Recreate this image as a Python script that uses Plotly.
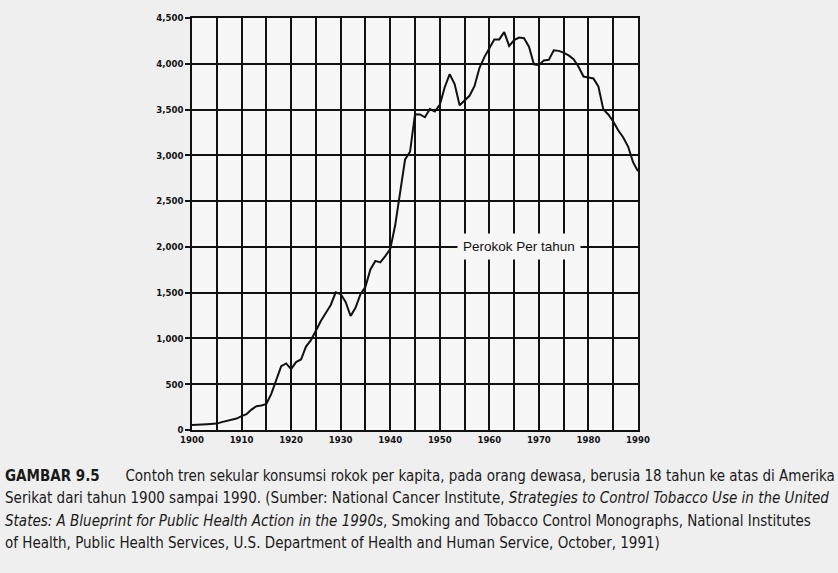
import plotly.graph_objects as go

years = list(range(1900, 1991))
cigarettes = [54, 53, 60, 64, 66, 70, 86, 99, 105, 125,
              151, 173, 223, 260, 267, 285, 395, 551, 697, 727,
              665, 742, 770, 911, 982, 1085, 1191, 1279, 1366, 1504,
              1485, 1399, 1245, 1334, 1483, 1564, 1754, 1847, 1830, 1900,
              1976, 2236, 2585, 2956, 3039, 3449, 3446, 3416, 3505, 3480,
              3552, 3744, 3886, 3778, 3546, 3597, 3650, 3755, 3953, 4073,
              4171, 4266, 4266, 4345, 4195, 4259, 4287, 4280, 4186, 3993,
              3985, 4037, 4043, 4148, 4141, 4122, 4092, 4051, 3967, 3861,
              3851, 3840, 3753, 3502, 3446, 3370, 3274, 3197, 3096, 2926,
              2826]
series_label = "Perokok Per tahun"
x_ticks = list(range(1900, 1991, 10))
y_ticks = list(range(0, 4501, 500))

caption_lines = [
    "<b>GAMBAR 9.5</b>&nbsp;&nbsp;&nbsp;&nbsp;&nbsp;&nbsp;Contoh tren sekular konsumsi rokok per kapita, pada orang dewasa, berusia 18 tahun ke atas di Amerika",
    "Serikat dari tahun 1900 sampai 1990. (Sumber: National Cancer Institute, <i>Strategies to Control Tobacco Use in the United</i>",
    "<i>States: A Blueprint for Public Health Action in the 1990s</i>, Smoking and Tobacco Control Monographs, National Institutes",
    "of Health, Public Health Services, U.S. Department of Health and Human Service, October, 1991)",
]

W, H = 838, 573
L, R, T, B = 192, 638, 18, 430

fig = go.Figure()
fig.add_trace(go.Scatter(x=years, y=cigarettes, mode="lines",
                         line=dict(color="#111111", width=2),
                         name=series_label, showlegend=False))

tickfont = dict(family="DejaVu Sans Condensed, Liberation Sans Narrow, sans-serif",
                size=9.5, color="#111111", weight="bold")

fig.update_xaxes(range=[1900, 1990], tickvals=x_ticks, ticktext=[str(v) for v in x_ticks],
                 showgrid=True, gridcolor="#111111", gridwidth=1.5,
                 minor=dict(dtick=5, tick0=1900, showgrid=True, gridcolor="#111111", gridwidth=1.5),
                 showline=True, linecolor="#111111", linewidth=1.5, mirror=True,
                 ticks="", tickfont=tickfont, zeroline=False)
fig.update_yaxes(range=[0, 4500], tickvals=y_ticks, tickformat=",",
                 showgrid=True, gridcolor="#111111", gridwidth=1.5,
                 showline=True, linecolor="#111111", linewidth=1.5, mirror=True,
                 ticks="outside", ticklen=5, tickcolor="#111111", tickwidth=1.5,
                 tickfont=tickfont, zeroline=False)

fig.add_annotation(x=1965.9, y=2000, xref="x", yref="y", text=series_label,
                   showarrow=False, bgcolor="#f7f7f7", borderpad=5,
                   font=dict(family="Liberation Sans, Arial, sans-serif", size=13.5, color="#111111"))

caption_font = dict(family="DejaVu Sans Condensed, Liberation Sans Narrow, sans-serif",
                    size=15, color="#1a1a1a")
caption_y = [476, 498, 521, 543]
for line, py in zip(caption_lines, caption_y):
    fig.add_annotation(x=(3 - L) / (R - L), y=(B - py) / (B - T), xref="paper", yref="paper",
                       text=line, showarrow=False, xanchor="left", yanchor="middle",
                       align="left", font=caption_font)

fig.update_layout(width=W, height=H, margin=dict(l=L, r=W - R, t=T, b=H - B),
                  paper_bgcolor="#efefef", plot_bgcolor="#f7f7f7")

fig.write_html("out.html", config={"displayModeBar": False},
               post_script="document.body.style.margin='0';")
